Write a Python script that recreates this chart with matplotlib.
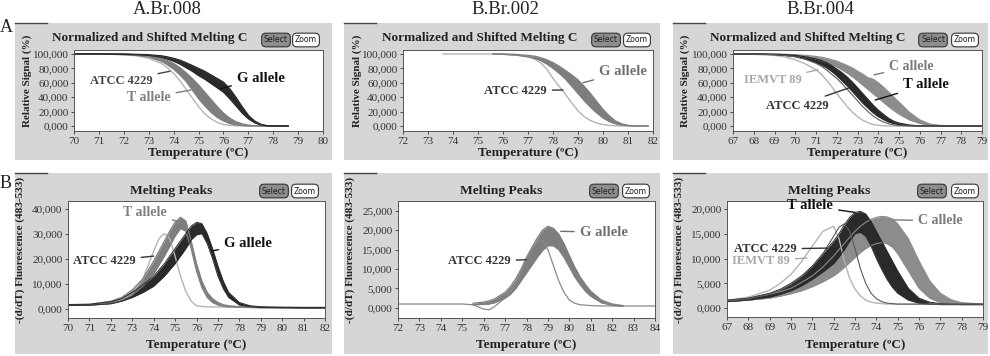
import numpy as np
import matplotlib
matplotlib.use("Agg")
import matplotlib.pyplot as plt
from matplotlib.patches import Rectangle
from matplotlib.lines import Line2D

nan = np.nan

# ---------- row A : normalized melting curves (relative signal, %) ----------
# A.Br.008
t_a1 = [70, 71, 72, 72.5, 73, 73.5, 73.75, 74, 74.25, 74.5, 74.75, 75, 75.25,
        75.5, 75.75, 76, 76.25, 76.5, 76.75, 77, 77.25, 77.5, 77.75, 78, 78.6]
a1_atcc = [100, 100, 99, 97.5, 94, 87, 81, 73, 63, 51, 39, 27, 17,
           10, 5, 2, 1, 0.3, 0, 0, 0, 0, 0, 0, 0]
a1_t_hi = [100, 100, 99.5, 99, 97.5, 94, 91, 87, 81, 74, 66, 57, 47,
           37, 27, 18, 11, 6, 3, 1.2, 0.4, 0, 0, 0, 0]
a1_t_lo = [100, 100, 99, 98, 96, 90, 85, 79, 71, 62, 50, 38, 28,
           19, 12, 7, 3.5, 1.5, 0.5, 0, 0, 0, 0, 0, 0]
a1_g_hi = [100, 100, 100, 99.5, 99, 97.5, 96, 94, 91.5, 88, 84, 80, 76,
           71, 66, 61, 52, 40, 27, 15, 7, 2.5, 0.5, 0, 0]
a1_g_lo = [100, 100, 99.5, 99, 98, 95.5, 93, 90, 86, 81, 76, 70, 65,
           59, 53, 47, 38, 28, 18, 10, 4.5, 1.5, 0, 0, 0]

# B.Br.002
t_a2 = [73.6, 75, 75.6, 76, 76.5, 77, 77.25, 77.5, 77.75, 78, 78.25, 78.5,
        78.75, 79, 79.25, 79.5, 79.75, 80, 80.25, 80.5, 80.75, 81, 81.25, 81.8]
a2_atcc = [100, 100, 100, 99.5, 98.5, 96, 93, 88, 79, 66, 55, 44,
           32, 21, 13, 7.5, 4, 2, 0.8, 0.2, 0, 0, 0, 0]
a2_g_hi = [nan, nan, 100, 100, 99.5, 98, 97, 95, 92, 88, 83, 77,
           71, 64, 55, 45, 34, 23, 14, 7, 3, 1, 0, 0]
a2_g_lo = [nan, nan, 100, 99.5, 98.5, 96, 94, 91, 86, 80, 73, 65,
           55, 45, 35, 26, 18, 11, 6, 3, 1, 0.3, 0, 0]

# B.Br.004
t_a3 = [67, 68, 69, 69.5, 70, 70.5, 71, 71.25, 71.5, 71.75, 72, 72.25, 72.5,
        72.75, 73, 73.25, 73.5, 73.75, 74, 74.25, 74.5, 74.75, 75, 75.5, 76,
        76.5, 77, 78, 79]
a3_iemvt = [100, 99.5, 98, 96, 92, 86, 78, 72, 64, 55, 45, 36, 27,
            19, 13, 8, 4.5, 2, 1, 0.3, 0, 0, 0, 0, 0, 0, 0, 0, 0]
a3_atcc = [100, 100, 99, 98, 96, 92.5, 87, 83, 78, 72, 66, 59, 51,
           43, 35, 27, 20, 14, 9, 5.5, 3, 1.5, 0.5, 0, 0, 0, 0, 0, 0]
a3_t_hi = [100, 100, 99.5, 99, 98, 96, 93, 91, 88, 84, 79, 74, 68,
           61, 53, 45, 37, 29, 22, 16, 10.5, 6.5, 4, 1.2, 0.2, 0, 0, 0, 0]
a3_t_lo = [100, 100, 99, 98, 96.5, 93, 88, 85, 81, 76, 70, 63, 56,
           48, 40, 32, 25, 18.5, 13, 9, 5.5, 3.5, 2, 0.5, 0, 0, 0, 0, 0]
a3_c_hi = [100, 100, 100, 99.5, 99, 98, 96.5, 95.5, 94, 92, 90, 87, 84,
           80.5, 76, 72, 67, 65, 60, 54, 47, 40, 33, 19, 8.5, 2.5, 0.7, 0, 0]
a3_c_lo = [100, 100, 99.5, 99, 98, 96, 93, 91, 88.5, 85.5, 82, 78, 73.5,
           68.5, 63, 57, 51, 45, 39, 33, 27, 21.5, 16.5, 8.5, 3.5, 1.2, 0.3, 0, 0]

# ---------- row B : melting peaks, -(d/dT) fluorescence (x1000) ----------
# A.Br.008
t_b1 = [70, 71, 72, 72.5, 73, 73.5, 74, 74.25, 74.5, 74.75, 75, 75.25, 75.5,
        75.75, 76, 76.25, 76.5, 76.75, 77, 77.25, 77.5, 78, 78.5, 79, 80, 81, 82]
b1_atcc = [1.5, 1.5, 2.2, 3.5, 6, 12, 23, 28, 30, 28, 21, 13, 7,
           3, 1.2, 0.9, 0.8, 0.7, 0.7, 0.7, 0.6, 0.6, 0.5, 0.5, 0.5, 0.5, 0.5]
b1_t_hi = [1.6, 1.7, 3, 4.5, 7.5, 12, 19, 23, 27, 31, 34.5, 36.5, 35,
           27, 18, 11, 6.5, 4, 2.5, 1.6, 1.2, 0.8, 0.6, 0.5, 0.5, 0.5, 0.5]
b1_t_lo = [1.3, 1.4, 2.2, 3.2, 5.5, 9, 14, 17.5, 21, 25, 29, 32, 31,
           24, 15, 8.5, 4.5, 2.5, 1.5, 1, 0.8, 0.6, 0.5, 0.4, 0.4, 0.4, 0.4]
b1_g_hi = [1.7, 1.8, 2.8, 4, 6.5, 9.5, 13, 15.5, 18, 21, 24, 27, 30,
           33, 34.5, 34, 30, 24, 17, 11, 6.5, 2.5, 1.2, 0.8, 0.6, 0.5, 0.5]
b1_g_lo = [1.3, 1.4, 2, 3, 4.5, 6.5, 9, 11, 13, 15.5, 18, 21, 24,
           27.5, 29.5, 30, 26, 20, 13, 8, 4.5, 1.5, 0.8, 0.5, 0.4, 0.3, 0.3]

# B.Br.002
t_b2 = [72, 73, 74, 75, 75.5, 76, 76.25, 76.5, 77, 77.25, 77.5, 77.75, 78,
        78.25, 78.5, 78.75, 79, 79.25, 79.5, 79.75, 80, 80.25, 80.5, 80.75,
        81, 81.5, 82, 82.5, 83, 84]
b2_atcc = [1, 1, 1, 1, 0.8, -0.3, -0.5, 0.3, 2.6, 4, 6.5, 9.5, 12.5,
           15, 17, 17.2, 15, 11, 7, 4, 2, 1.2, 0.8, 0.7,
           0.6, 0.5, 0.5, 0.5, 0.5, 0.5]
b2_g_hi = [nan, nan, nan, nan, 1.2, 1.5, 1.8, 2.3, 4, 5.5, 7.5, 10, 13,
           15.5, 18, 20, 21, 20.5, 19, 16.5, 13.5, 10.5, 8, 6,
           4.3, 2, 1, 0.6, nan, nan]
b2_g_lo = [nan, nan, nan, nan, 0.8, 0.9, 1, 1.3, 2.5, 3.5, 5, 7, 9,
           11, 13, 14.8, 16, 16, 15, 13, 10.5, 8, 6, 4.3,
           3, 1.3, 0.7, 0.4, nan, nan]

# B.Br.004
t_b3 = [67, 68, 69, 69.5, 70, 70.5, 71, 71.5, 72, 72.25, 72.5, 72.75, 73,
        73.25, 73.5, 73.75, 74, 74.25, 74.5, 74.75, 75, 75.5, 76, 76.5, 77,
        77.5, 78, 79]
b3_iemvt = [1.5, 2.2, 3.6, 5, 6.8, 9.4, 12.5, 15.5, 16.5, 14, 9.5, 6, 3.8,
            2.5, 1.6, 1.2, 1, 0.9, 0.8, 0.8, 0.8, 0.8, 0.8, 0.8, 0.8,
            0.8, 0.8, 0.8]
b3_atcc = [1.5, 1.9, 2.8, 3.6, 4.7, 6.3, 8.3, 11, 14.5, 16.3, 17, 15.5, 12,
           8, 5, 3, 1.9, 1.3, 1, 0.9, 0.8, 0.8, 0.8, 0.8, 0.8,
           0.8, 0.8, 0.8]
b3_t_hi = [1.6, 2, 3, 3.8, 5, 6.5, 8.5, 11, 13.5, 15, 16.8, 18.3, 19.3,
           19.5, 19, 17.5, 15.5, 13.5, 11.5, 9.5, 7.5, 4, 2, 1.2, 0.9,
           0.8, 0.8, 0.8]
b3_t_lo = [1.3, 1.6, 2.2, 2.8, 3.5, 4.5, 5.8, 7.3, 9, 10.3, 11.8, 13.5, 15,
           15.3, 14.5, 12.5, 10, 7.8, 5.8, 4.2, 3, 1.6, 1, 0.8, 0.7,
           0.7, 0.7, 0.7]
b3_c_hi = [1.6, 2, 2.8, 3.3, 4, 5.2, 6.5, 8.3, 10.5, 11.8, 13, 14.3, 15.5,
           16.5, 17.3, 17.9, 18.3, 18.5, 18.4, 18, 17, 14, 9.5, 5.5, 3,
           1.7, 1.1, 0.8]
b3_c_lo = [1.3, 1.6, 2, 2.4, 2.9, 3.5, 4.3, 5.3, 6.5, 7.3, 8.2, 9.2, 10.2,
           11.2, 12, 12.6, 13, 13.2, 13, 12.3, 11, 7.5, 4, 2, 1.1,
           0.8, 0.7, 0.7]

column_titles = ["A.Br.008", "B.Br.002", "B.Br.004"]
row_labels = ["A", "B"]

# ---------------------------------------------------------------------------
W, H = 990, 356
plt.rcParams['font.family'] = ['Liberation Serif', 'DejaVu Serif']
fig = plt.figure(figsize=(W / 100, H / 100), dpi=100)
fig.patch.set_facecolor('white')

LIGHT = '#b4b4b4'
MID = '#7e7e7e'
DARK = '#2a2a2a'


def fpos(x, y):
    return x / W, 1 - y / H


def frame(x0, y0, x1, y1):
    fig.add_artist(Rectangle((x0 / W, 1 - y1 / H), (x1 - x0) / W, (y1 - y0) / H,
                             transform=fig.transFigure, fc='#d6d6d6', ec='none', zorder=0))
    fig.add_artist(Line2D([x0 / W, (x0 + 32) / W], [1 - y0 / H] * 2,
                          transform=fig.transFigure, color='#444444', lw=1))


def buttons(xs, xz, y):
    fig.text(*fpos(xs, y), 'Select', fontsize=5.6, family='DejaVu Sans', ha='center', va='center',
             color='#1e1e1e', bbox=dict(boxstyle='round,pad=0.3,rounding_size=0.55',
                                        fc='#8d8d8d', ec='#333333', lw=0.8))
    fig.text(*fpos(xz, y), 'Zoom', fontsize=5.6, family='DejaVu Sans', ha='center', va='center',
             color='#1e1e1e', bbox=dict(boxstyle='round,pad=0.3,rounding_size=0.55',
                                        fc='white', ec='#333333', lw=0.8))


def make_axes(x0, x1, y0, y1, xlim, ylim, xticks, yticks):
    ax = fig.add_axes([x0 / W, 1 - y1 / H, (x1 - x0) / W, (y1 - y0) / H])
    ax.set_xlim(*xlim)
    ax.set_ylim(*ylim)
    ax.set_xticks(xticks)
    ax.set_xticklabels([str(v) for v in xticks])
    ax.set_yticks(yticks)
    ax.set_yticklabels([f"{v:.3f}".replace('.', ',') for v in yticks])
    ax.tick_params(labelsize=8, length=2.5, width=0.6, pad=1.5, colors='#333333')
    for s in ax.spines.values():
        s.set_color('#555555')
        s.set_linewidth(0.7)
    return ax


def band(ax, t, lo, hi, color, lw=0.9):
    ax.fill_between(t, lo, hi, color=color, lw=0)
    ax.plot(t, lo, color=color, lw=lw)
    ax.plot(t, hi, color=color, lw=lw)


def label(ax, txt, xy, xytext, color, size=10):
    ax.annotate(txt, xy=xy, xytext=xytext, ha='center', va='center', fontsize=size,
                fontweight='bold', color=color,
                arrowprops=dict(arrowstyle='-', color=color, lw=1.0, shrinkA=2, shrinkB=0))


# gray panel frames
cols = [(15, 332), (344, 660), (673, 988)]
for x0, x1 in cols:
    frame(x0, 23, x1, 160)
    frame(x0, 173, x1, 354)

# column titles / row letters
for txt, cx in zip(column_titles, [167, 505, 820]):
    fig.text(*fpos(cx, 10), txt, fontsize=13.5, ha='center', va='center', color='#222222')
fig.text(*fpos(0, 28), row_labels[0], fontsize=13, ha='left', va='center', color='#222222')
fig.text(*fpos(0, 183), row_labels[1], fontsize=13, ha='left', va='center', color='#222222')

# titles, buttons, axis labels
top_title_x = [52, 382, 710]
sel_top = [(276, 306), (606, 637), (933, 965)]
sel_bot = [(274, 305), (604, 636), (932, 965)]
peak_title_x = [171, 501, 829]
ylab_top_x = [27, 357, 685]
ylab_bot_x = [20, 350, 679]
top_ax_x = [(74, 323), (403, 653), (733, 982)]
bot_ax_x = [(68, 325), (398, 655), (727, 983)]

for i in range(3):
    fig.text(*fpos(top_title_x[i], 38), 'Normalized and Shifted Melting C', fontsize=9.5,
             fontweight='bold', ha='left', va='center', color='#222222')
    buttons(*sel_top[i], 40)
    fig.text(*fpos(peak_title_x[i], 191), 'Melting Peaks', fontsize=9.7,
             fontweight='bold', ha='center', va='center', color='#222222')
    buttons(*sel_bot[i], 191)
    fig.text(*fpos(sum(top_ax_x[i]) / 2, 153), 'Temperature (ºC)', fontsize=9.5,
             fontweight='bold', ha='center', va='center', color='#222222')
    fig.text(*fpos(sum(bot_ax_x[i]) / 2, 345), 'Temperature (ºC)', fontsize=9.5,
             fontweight='bold', ha='center', va='center', color='#222222')
    fig.text(*fpos(ylab_top_x[i], 81), 'Relative Signal (%)', fontsize=8, rotation=90,
             fontweight='bold', ha='center', va='center', color='#222222')
    fig.text(*fpos(ylab_bot_x[i], 250), '-(d/dT) Fluorescence (483-533)', fontsize=8,
             rotation=90, fontweight='bold', ha='center', va='center', color='#222222')

pct = [0, 20, 40, 60, 80, 100]

# ---- A.Br.008 melting ----
ax = make_axes(*top_ax_x[0], 50, 131, (70, 80), (-7, 105.5), list(range(70, 81)), pct)
ax.plot(t_a1, a1_atcc, color=LIGHT, lw=1.0)
band(ax, t_a1, a1_t_lo, a1_t_hi, MID)
band(ax, t_a1, a1_g_lo, a1_g_hi, DARK)
label(ax, 'ATCC 4229', (73.86, 76), (71.9, 62.5), '#444444', 9)
label(ax, 'T allele', (74.7, 50), (73.0, 39), MID, 10)
label(ax, 'G allele', (75.9, 52), (77.5, 66.5), '#111111', 10.5)

# ---- B.Br.002 melting ----
ax = make_axes(*top_ax_x[1], 50, 131, (72, 82), (-7, 105.5), list(range(72, 83)), pct)
ax.plot(t_a2, a2_atcc, color=LIGHT, lw=1.0)
band(ax, t_a2, a2_g_lo, a2_g_hi, MID)
label(ax, 'ATCC 4229', (78.4, 50), (76.5, 49), '#333333', 9)
label(ax, 'G allele', (79.2, 60), (80.8, 75), '#707070', 10.5)

# ---- B.Br.004 melting ----
ax = make_axes(*top_ax_x[2], 50, 131, (67, 79), (-7, 105.5), list(range(67, 80)), pct)
ax.plot(t_a3, a3_iemvt, color=LIGHT, lw=1.0)
band(ax, t_a3, a3_c_lo, a3_c_hi, '#8c8c8c')
band(ax, t_a3, a3_t_lo, a3_t_hi, DARK)
ax.plot(t_a3, a3_atcc, color='#5a5a5a', lw=0.8)
label(ax, 'IEMVT 89', (71.1, 78), (68.9, 64), '#a8a8a8', 9)
label(ax, 'ATCC 4229', (72.6, 53), (70.1, 28), '#333333', 9)
label(ax, 'C allele', (73.8, 71), (75.6, 83), '#7a7a7a', 10)
label(ax, 'T allele', (73.85, 36), (76.3, 57), '#111111', 10.5)

# ---- A.Br.008 peaks ----
ax = make_axes(*bot_ax_x[0], 201, 318, (70, 82), (-3.7, 43), list(range(70, 83)),
               [0, 10, 20, 30, 40])
ax.plot(t_b1, b1_atcc, color=LIGHT, lw=1.0)
band(ax, t_b1, b1_t_lo, b1_t_hi, MID)
band(ax, t_b1, b1_g_lo, b1_g_hi, DARK, lw=0.7)
label(ax, 'T allele', (75.3, 34.5), (73.6, 38.3), MID, 10)
label(ax, 'ATCC 4229', (74.0, 21), (71.7, 19), '#333333', 9)
label(ax, 'G allele', (76.7, 23), (78.4, 26), '#111111', 10.5)

# ---- B.Br.002 peaks ----
ax = make_axes(*bot_ax_x[1], 201, 318, (72, 84), (-2.6, 27.5), list(range(72, 85)),
               [0, 5, 10, 15, 20, 25])
ax.plot(t_b2, b2_atcc, color='#8a8a8a', lw=0.9)
band(ax, t_b2, b2_g_lo, b2_g_hi, MID)
label(ax, 'ATCC 4229', (78.0, 12.4), (75.8, 12), '#333333', 9)
label(ax, 'G allele', (79.6, 19.7), (81.6, 19.5), '#707070', 10.5)

# ---- B.Br.004 peaks ----
ax = make_axes(*bot_ax_x[2], 201, 317, (67, 79), (-1.8, 21.6), list(range(67, 80)),
               [0, 5, 10, 15, 20])
ax.plot(t_b3, b3_iemvt, color=LIGHT, lw=1.0)
band(ax, t_b3, b3_c_lo, b3_c_hi, '#8c8c8c', lw=0.8)
band(ax, t_b3, b3_t_lo, b3_t_hi, DARK, lw=0.7)
ax.plot(t_b3, b3_atcc, color='#5a5a5a', lw=0.8)
label(ax, 'T allele', (73.0, 19.3), (70.9, 20.6), '#111111', 10.5)
label(ax, 'ATCC 4229', (71.7, 12.1), (68.8, 11.9), '#333333', 9)
label(ax, 'IEMVT 89', (70.75, 10.1), (68.6, 9.5), '#a8a8a8', 9)
label(ax, 'C allele', (74.8, 17.8), (77.0, 17.6), '#7a7a7a', 10)

fig.savefig('out.png', dpi=100)
